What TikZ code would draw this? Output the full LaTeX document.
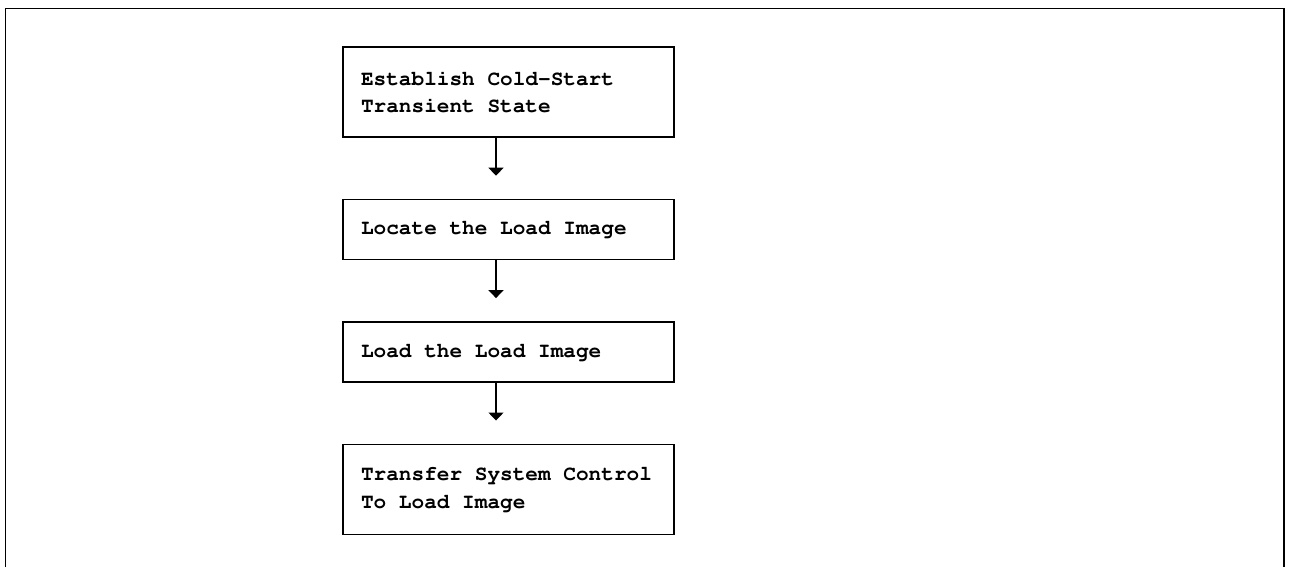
\documentclass[tikz,border=0pt]{standalone}
\usepackage[T1]{fontenc}
\usepackage{courier}
\usepackage{tikz}
\usetikzlibrary{arrows.meta,positioning}

\newcommand{\stagefont}{\ttfamily\bfseries\fontsize{12}{15.5}\selectfont}
% fixed word gap, one character cell wide
\newcommand{\wsp}{\hspace{0.6em}}

\begin{document}
\begin{tikzpicture}[
    node distance=1.22cm,
    stage/.style={rectangle, draw, line width=0.8pt, minimum width=6.62cm, text width=5.9cm,
        align=left, inner xsep=0.36cm, inner ysep=0.14cm, font=\stagefont},
    tall/.style={minimum height=1.8cm},
    short/.style={minimum height=1.2cm},
    arrow/.style={-{Triangle[width=0.3cm,length=0.16cm]}, line width=0.8pt}
]
\useasboundingbox (0,0) rectangle (25.8,-11.34);
% open frame round the flow
\draw[line width=0.6pt] (0.11,-11.34) |- (25.68,-0.17) -- (25.68,-11.34);

\node[stage, tall] (coldstart) at (10.17,-1.84) {Establish\wsp Cold-Start\\Transient\wsp State};
\node[stage, short, below=of coldstart] (locate) {Locate\wsp the\wsp Load\wsp Image};
\node[stage, short, below=of locate] (load) {Load\wsp the\wsp Load\wsp Image};
\node[stage, tall, below=of load] (transfer) {Transfer\wsp System\wsp Control\\To\wsp Load\wsp Image};

\coordinate[below=0.76cm of coldstart.south, xshift=-0.25cm] (tip1);
\coordinate[below=0.76cm of locate.south, xshift=-0.25cm] (tip2);
\coordinate[below=0.76cm of load.south, xshift=-0.25cm] (tip3);

\draw[arrow] (coldstart.south -| tip1) -- (tip1);
\draw[arrow] (locate.south -| tip2) -- (tip2);
\draw[arrow] (load.south -| tip3) -- (tip3);
\end{tikzpicture}
\end{document}
